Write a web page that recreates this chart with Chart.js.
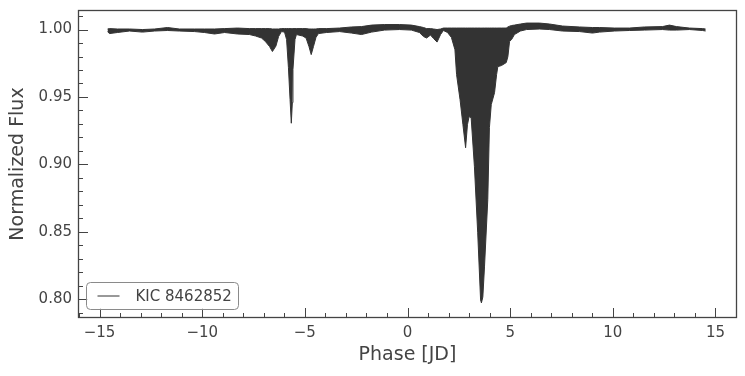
<!DOCTYPE html>
<html>
<head>
<meta charset="utf-8">
<script src="https://cdn.jsdelivr.net/npm/chart.js@4/dist/chart.umd.min.js"></script>
<style>
  html, body { margin: 0; padding: 0; background: #fff; }
  #wrap { width: 745px; height: 376px; }
</style>
</head>
<body>
<div id="wrap"><canvas id="lc" width="745" height="376"></canvas></div>
<script>
// folded light curve (upper / lower envelope of the dense points)
const phase = [
  -14.61, -14.52, -14.13, -13.54, -12.91, -12.32, -11.69, -11.11, -10.37, -9.89,
  -9.40, -8.91, -8.28, -7.70, -7.40, -7.11, -6.92, -6.72, -6.58, -6.41,
  -6.28, -6.14, -5.99, -5.89, -5.80, -5.72, -5.66, -5.61, -5.58, -5.48,
  -5.41, -5.11, -4.94, -4.80, -4.69, -4.58, -4.46, -4.34, -3.95, -3.31,
  -2.73, -2.24, -1.75, -1.12, -0.39, 0.19, 0.58, 0.78, 0.93, 1.12,
  1.27, 1.44, 1.61, 1.75, 1.95, 2.14, 2.31, 2.39, 2.56, 2.70,
  2.83, 2.92, 3.00, 3.10, 3.26, 3.42, 3.56, 3.60, 3.67, 3.75,
  3.91, 3.99, 4.08, 4.24, 4.34, 4.40, 4.58, 4.81, 4.89, 4.97,
  5.07, 5.21, 5.50, 5.80, 6.43, 6.92, 7.55, 8.38, 9.01, 9.35,
  10.08, 10.81, 11.54, 12.42, 12.76, 13.10, 13.73, 14.37, 14.52,
];
const fluxUpper = [
  1.0004, 1.0007, 1.0004, 1.0004, 1.0000, 1.0004, 1.0015, 1.0004, 1.0004, 1.0004,
  1.0004, 1.0007, 1.0011, 1.0007, 1.0007, 1.0007, 1.0007, 1.0007, 1.0004, 1.0004,
  1.0004, 1.0007, 1.0007, 1.0007, 1.0007, 1.0007, 1.0007, 1.0007, 1.0007, 1.0007,
  1.0007, 1.0007, 1.0007, 1.0004, 1.0004, 1.0004, 1.0004, 1.0007, 1.0007, 1.0011,
  1.0019, 1.0022, 1.0033, 1.0037, 1.0037, 1.0033, 1.0022, 1.0015, 1.0007, 1.0007,
  1.0004, 1.0000, 1.0004, 1.0011, 1.0011, 1.0011, 1.0011, 1.0011, 1.0011, 1.0011,
  1.0011, 1.0011, 1.0011, 1.0011, 1.0011, 1.0011, 1.0011, 1.0011, 1.0011, 1.0011,
  1.0011, 1.0011, 1.0011, 1.0011, 1.0011, 1.0011, 1.0011, 1.0011, 1.0019, 1.0025,
  1.0030, 1.0033, 1.0041, 1.0048, 1.0048, 1.0041, 1.0026, 1.0019, 1.0015, 1.0015,
  1.0011, 1.0011, 1.0019, 1.0022, 1.0033, 1.0022, 1.0011, 1.0007, 1.0004,
];
const fluxLower = [
  0.9985, 0.9970, 0.9978, 0.9989, 0.9981, 0.9989, 0.9993, 0.9989, 0.9985, 0.9978,
  0.9967, 0.9978, 0.9967, 0.9963, 0.9952, 0.9937, 0.9911, 0.9874, 0.9837, 0.9877,
  0.9948, 0.9985, 0.9981, 0.9926, 0.9718, 0.9480, 0.9305, 0.9458, 0.9703, 0.9926,
  0.9963, 0.9952, 0.9937, 0.9874, 0.9814, 0.9874, 0.9941, 0.9970, 0.9978, 0.9985,
  0.9974, 0.9963, 0.9981, 0.9996, 1.0000, 0.9996, 0.9978, 0.9948, 0.9937, 0.9959,
  0.9933, 0.9907, 0.9963, 0.9993, 0.9978, 0.9941, 0.9851, 0.9666, 0.9480, 0.9294,
  0.9123, 0.9294, 0.9354, 0.9346, 0.8982, 0.8492, 0.7994, 0.7972, 0.8016, 0.8239,
  0.8737, 0.9272, 0.9443, 0.9532, 0.9666, 0.9725, 0.9733, 0.9755, 0.9799, 0.9911,
  0.9926, 0.9963, 0.9989, 1.0000, 1.0004, 1.0000, 0.9989, 0.9985, 0.9974, 0.9981,
  0.9989, 0.9993, 0.9996, 1.0000, 0.9996, 0.9996, 1.0000, 0.9993, 0.9989,
];
const xTicks = [-15, -10, -5, 0, 5, 10, 15];
const yTicks = [0.80, 0.85, 0.90, 0.95, 1.00];
const targetName = 'KIC 8462852';

document.addEventListener('DOMContentLoaded', () => {
  const INK = '#333333';
  const TEXT = '#444444';
  const FONT = "'DejaVu Sans', sans-serif";

  const minus = (v) => (v < 0 ? '\u2212' + Math.abs(v) : String(v));
  const pts = (ys) => phase.map((p, i) => ({ x: p, y: ys[i] }));

  // inward ticks + box, like the mpl style of the original
  const frame = {
    id: 'frame',
    afterDraw(chart) {
      const { ctx, chartArea: a, scales: { x, y } } = chart;
      ctx.save();
      ctx.strokeStyle = TEXT;
      ctx.lineWidth = 1;
      ctx.beginPath();
      const xt = (v, len) => {
        const px = Math.round(x.getPixelForValue(v)) + 0.5;
        ctx.moveTo(px, a.bottom); ctx.lineTo(px, a.bottom - len);
      };
      const yt = (v, len) => {
        const py = Math.round(y.getPixelForValue(v)) + 0.5;
        ctx.moveTo(a.left, py); ctx.lineTo(a.left + len, py);
      };
      for (let v = -16; v <= 16; v++) {
        if (v <= x.min || v >= x.max) continue;
        xt(v, v % 5 === 0 ? 10 : 5);
      }
      for (let k = 79; k <= 101; k++) {
        const v = k / 100;
        if (v <= y.min || v >= y.max) continue;
        yt(v, k % 5 === 0 ? 10 : 5);
      }
      ctx.stroke();
      ctx.lineWidth = 1.3;
      ctx.strokeRect(a.left + 0.5, a.top + 0.5, a.right - a.left - 1, a.bottom - a.top - 1);
      ctx.restore();
    },
  };

  const legendBox = {
    id: 'legendBox',
    afterDraw(chart) {
      const { ctx, chartArea: a } = chart;
      const bx = a.left + 8.5, bw = 152, bh = 27;
      const by = a.bottom - 8.5 - bh, r = 4;
      ctx.save();
      ctx.beginPath();
      ctx.moveTo(bx + r, by);
      ctx.arcTo(bx + bw, by, bx + bw, by + bh, r);
      ctx.arcTo(bx + bw, by + bh, bx, by + bh, r);
      ctx.arcTo(bx, by + bh, bx, by, r);
      ctx.arcTo(bx, by, bx + bw, by, r);
      ctx.closePath();
      ctx.fillStyle = 'rgba(255,255,255,0.8)';
      ctx.fill();
      ctx.strokeStyle = '#8a8a8a';
      ctx.lineWidth = 1;
      ctx.stroke();
      const cy = by + bh / 2;
      ctx.beginPath();
      ctx.moveTo(bx + 11, cy); ctx.lineTo(bx + 33, cy);
      ctx.strokeStyle = INK;
      ctx.stroke();
      ctx.fillStyle = TEXT;
      ctx.font = `15px ${FONT}`;
      ctx.textBaseline = 'middle';
      ctx.fillText(chart.data.datasets[1].label, bx + 49, cy + 1);
      ctx.restore();
    },
  };

  new Chart(document.getElementById('lc'), {
    type: 'line',
    data: {
      datasets: [
        { label: 'lower', data: pts(fluxLower), borderColor: INK, borderWidth: 1, pointRadius: 0, fill: false },
        { label: targetName, data: pts(fluxUpper), borderColor: INK, borderWidth: 1, pointRadius: 0, fill: '-1', backgroundColor: INK },
      ],
    },
    options: {
      responsive: false,
      animation: false,
      devicePixelRatio: 1,
      layout: { padding: { top: 10, right: 8, left: 0, bottom: 0 } },
      plugins: { legend: { display: false }, tooltip: { enabled: false } },
      elements: { line: { tension: 0 } },
      scales: {
        x: {
          type: 'linear',
          min: -16.05,
          max: 16.05,
          afterBuildTicks: (s) => { s.ticks = xTicks.map((v) => ({ value: v })); },
          afterFit: (s) => { s.height = 58; s.paddingLeft = 0; s.paddingRight = 0; },
          grid: { display: false, drawTicks: false },
          border: { display: false },
          ticks: { padding: 6, color: TEXT, font: { family: FONT, size: 15 }, maxRotation: 0, callback: (v) => minus(v) },
          title: { display: true, text: 'Phase [JD]', color: TEXT, font: { family: FONT, size: 19 }, padding: { top: 0, bottom: 10 } },
        },
        y: {
          min: 0.786,
          max: 1.0145,
          afterBuildTicks: (s) => { s.ticks = yTicks.map((v) => ({ value: v })); },
          afterFit: (s) => { s.width = 78; s.paddingTop = 0; s.paddingBottom = 0; },
          grid: { display: false, drawTicks: false },
          border: { display: false },
          ticks: { padding: 6, color: TEXT, font: { family: FONT, size: 15 }, callback: (v) => v.toFixed(2) },
          title: { display: true, text: 'Normalized Flux', color: TEXT, font: { family: FONT, size: 19 }, padding: { top: 7, bottom: 0 } },
        },
      },
    },
    plugins: [frame, legendBox],
  });
});
</script>
</body>
</html>
